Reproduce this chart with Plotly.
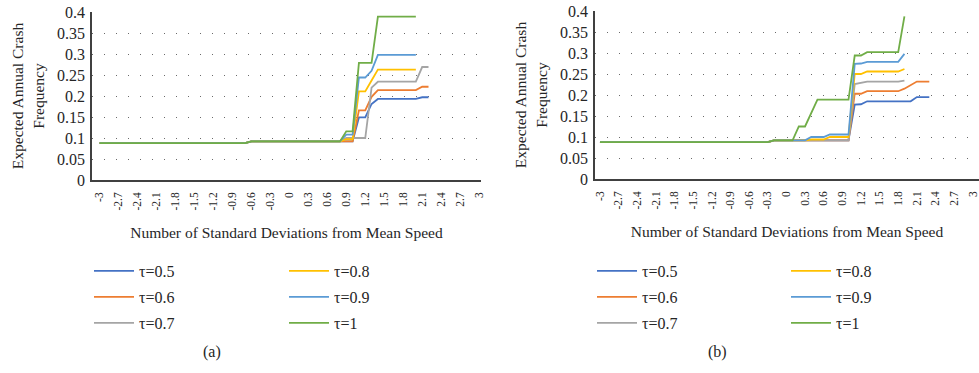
import plotly.graph_objects as go

# ---------------- data ----------------
TAU_LABELS = ["τ=0.5", "τ=0.6", "τ=0.7", "τ=0.8", "τ=0.9", "τ=1"]
COLORS = ["#4472C4", "#ED7D31", "#A5A5A5", "#FFC000", "#5B9BD5", "#70AD47"]

TICK_VALS = [-3.0, -2.7, -2.4, -2.1, -1.8, -1.5, -1.2, -0.9, -0.6, -0.3, 0.0,
             0.3, 0.6, 0.9, 1.2, 1.5, 1.8, 2.1, 2.4, 2.7, 3.0]
TICK_TEXT = ["-3", "-2.7", "-2.4", "-2.1", "-1.8", "-1.5", "-1.2", "-0.9", "-0.6", "-0.3", "0",
             "0.3", "0.6", "0.9", "1.2", "1.5", "1.8", "2.1", "2.4", "2.7", "3"]
Y_TICKS = [0, 0.05, 0.1, 0.15, 0.2, 0.25, 0.3, 0.35, 0.4]
Y_TEXT = ["0", "0.05", "0.1", "0.15", "0.2", "0.25", "0.3", "0.35", "0.4"]

# panel (a)
XA_05 = [-3.0, -0.7, -0.6, 1.0, 1.1, 1.2, 1.3, 1.4, 2.0, 2.1, 2.2]
YA_05 = [0.088, 0.088, 0.092, 0.092, 0.149, 0.149, 0.181, 0.193, 0.193, 0.197, 0.197]
XA_06 = [-3.0, -0.7, -0.6, 1.0, 1.1, 1.2, 1.3, 1.4, 2.0, 2.1, 2.2]
YA_06 = [0.088, 0.088, 0.092, 0.092, 0.166, 0.166, 0.198, 0.214, 0.214, 0.222, 0.222]
XA_07 = [-3.0, -0.7, -0.6, 0.8, 0.9, 1.2, 1.3, 1.4, 2.0, 2.1, 2.2]
YA_07 = [0.088, 0.088, 0.092, 0.092, 0.100, 0.100, 0.220, 0.234, 0.234, 0.269, 0.269]
XA_08 = [-3.0, -0.7, -0.6, 0.8, 0.9, 1.0, 1.1, 1.2, 1.3, 1.4, 2.0]
YA_08 = [0.088, 0.088, 0.092, 0.092, 0.097, 0.097, 0.211, 0.211, 0.237, 0.263, 0.263]
XA_09 = [-3.0, -0.7, -0.6, 0.8, 0.9, 1.0, 1.1, 1.2, 1.3, 1.4, 2.0]
YA_09 = [0.088, 0.088, 0.092, 0.092, 0.108, 0.108, 0.244, 0.244, 0.260, 0.298, 0.298]
XA_10 = [-3.0, -0.7, -0.6, 0.8, 0.9, 1.0, 1.1, 1.2, 1.3, 1.4, 2.0]
YA_10 = [0.088, 0.088, 0.092, 0.092, 0.116, 0.116, 0.279, 0.279, 0.279, 0.389, 0.389]

# panel (b)
XB_05 = [-3.0, -0.3, -0.2, 1.0, 1.1, 1.2, 1.3, 2.0, 2.1, 2.3]
YB_05 = [0.088, 0.088, 0.092, 0.092, 0.177, 0.178, 0.185, 0.185, 0.195, 0.195]
XB_06 = [-3.0, -0.3, -0.2, 1.0, 1.1, 1.2, 1.3, 1.8, 1.9, 2.0, 2.1, 2.3]
YB_06 = [0.088, 0.088, 0.092, 0.092, 0.203, 0.203, 0.209, 0.209, 0.215, 0.224, 0.232, 0.232]
XB_07 = [-3.0, -0.3, -0.2, 1.0, 1.1, 1.2, 1.3, 1.8, 1.9]
YB_07 = [0.088, 0.088, 0.092, 0.092, 0.226, 0.229, 0.232, 0.232, 0.234]
XB_08 = [-3.0, -0.3, -0.2, 0.3, 0.4, 0.6, 0.7, 1.0, 1.1, 1.2, 1.3, 1.8, 1.9]
YB_08 = [0.088, 0.088, 0.092, 0.092, 0.094, 0.094, 0.100, 0.100, 0.250, 0.250, 0.256, 0.256, 0.262]
XB_09 = [-3.0, -0.3, -0.2, 0.3, 0.4, 0.6, 0.7, 1.0, 1.1, 1.2, 1.3, 1.8, 1.9]
YB_09 = [0.088, 0.088, 0.092, 0.092, 0.100, 0.100, 0.106, 0.106, 0.274, 0.275, 0.279, 0.279, 0.298]
XB_10 = [-3.0, -0.3, -0.2, 0.1, 0.2, 0.3, 0.5, 1.0, 1.1, 1.2, 1.3, 1.8, 1.9]
YB_10 = [0.088, 0.088, 0.092, 0.092, 0.125, 0.125, 0.189, 0.189, 0.294, 0.294, 0.302, 0.302, 0.387]

SERIES_A = [(XA_05, YA_05), (XA_06, YA_06), (XA_07, YA_07), (XA_08, YA_08), (XA_09, YA_09), (XA_10, YA_10)]
SERIES_B = [(XB_05, YB_05), (XB_06, YB_06), (XB_07, YB_07), (XB_08, YB_08), (XB_09, YB_09), (XB_10, YB_10)]

FONT = '"Liberation Serif", "Times New Roman", serif'
W, H = 979, 373

AXIS_COLOR = "#404040"
TEXT_COLOR = "#262626"


def px_x(p):
    return p / W


def px_y(p):
    return 1 - p / H


# legend slot positions (left px of sample, row centre px) for the 2x3 grid of each panel
LEG_COL_A = [93, 288, 93, 288, 93, 288]
LEG_COL_B = [596, 790, 596, 790, 596, 790]
LEG_ROW = [270, 270, 296, 296, 322, 322]
LEG_ORDER = [0, 3, 1, 4, 2, 5]  # τ index placed in each slot

fig = go.Figure()
layout_legends = {}
for series, cols, xa, ya, base in ((SERIES_A, LEG_COL_A, "x", "y", 1),
                                   (SERIES_B, LEG_COL_B, "x2", "y2", 7)):
    for i, (xs, ys) in enumerate(series):
        slot = LEG_ORDER.index(i)
        lname = "legend" if (base + i) == 1 else f"legend{base + i}"
        fig.add_trace(go.Scatter(x=xs, y=ys, mode="lines", name=TAU_LABELS[i],
                                 line=dict(color=COLORS[i], width=1.8),
                                 xaxis=xa, yaxis=ya, legend=lname))
        layout_legends[lname] = dict(
            x=px_x(cols[slot] - 4), y=px_y(LEG_ROW[slot] - 16), xanchor="left", yanchor="top",
            orientation="v", bgcolor="rgba(0,0,0,0)", borderwidth=0,
            font=dict(family=FONT, size=16, color=TEXT_COLOR), itemwidth=40)


def xaxis(domain, rng, anchor):
    return dict(domain=domain, range=rng, anchor=anchor, tickmode="array",
                tickvals=TICK_VALS, ticktext=TICK_TEXT, tickangle=-90,
                tickfont=dict(family=FONT, size=11.5, color=TEXT_COLOR),
                ticks="", ticklabelstandoff=6, ticklabeloverflow="allow",
                showgrid=False, zeroline=False,
                showline=True, linecolor=AXIS_COLOR, linewidth=1.5,
                title=dict(text="Number of Standard Deviations from Mean Speed",
                           font=dict(family=FONT, size=15.5, color=TEXT_COLOR), standoff=18),
                automargin=False, fixedrange=True)


def yaxis(domain, anchor):
    return dict(domain=domain, range=[0, 0.4], anchor=anchor, tickmode="array",
                tickvals=Y_TICKS, ticktext=Y_TEXT,
                tickfont=dict(family=FONT, size=16, color=TEXT_COLOR),
                ticks="", ticklabelstandoff=2, showgrid=True, gridcolor="#6a6a6a",
                gridwidth=1.3, griddash="1px,11px", zeroline=False,
                showline=True, linecolor=AXIS_COLOR, linewidth=1.5,
                title=dict(text="Expected Annual Crash<br>Frequency",
                           font=dict(family=FONT, size=15.5, color=TEXT_COLOR), standoff=9),
                automargin=False, fixedrange=True)


fig.update_layout(
    width=W, height=H,
    margin=dict(l=0, r=0, t=0, b=0),
    font=dict(family=FONT, color=TEXT_COLOR),
    paper_bgcolor="white", plot_bgcolor="white",
    showlegend=True,
    xaxis=xaxis([px_x(92), px_x(481)], [-3.12, 3.03], "y"),
    yaxis=yaxis([px_y(180), px_y(12)], "x"),
    xaxis2=xaxis([px_x(595), 1.0], [-3.08, 3.1], "y2"),
    yaxis2=yaxis([px_y(179), px_y(11)], "x2"),
    annotations=[
        dict(text="(a)", x=px_x(212), y=px_y(352), xref="paper", yref="paper",
             xanchor="center", yanchor="middle",
             showarrow=False, font=dict(family=FONT, size=16, color=TEXT_COLOR)),
        dict(text="(b)", x=px_x(717), y=px_y(352), xref="paper", yref="paper",
             xanchor="center", yanchor="middle",
             showarrow=False, font=dict(family=FONT, size=16, color=TEXT_COLOR)),
    ],
    **layout_legends,
)

fig.write_html("out.html", config={"displayModeBar": False},
               post_script="document.body.style.margin='0';")
